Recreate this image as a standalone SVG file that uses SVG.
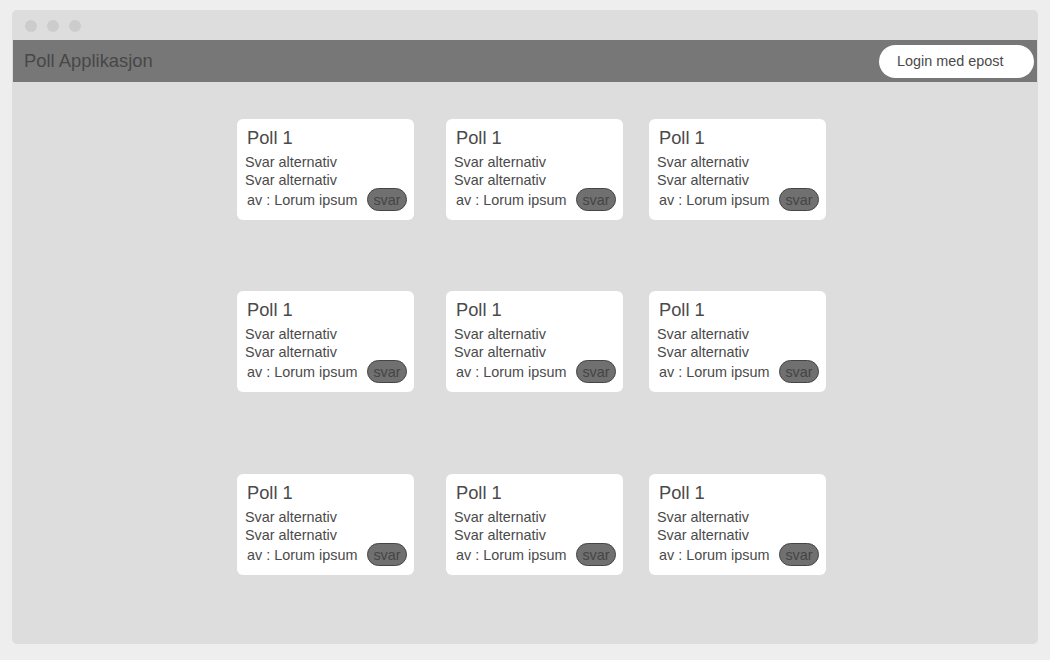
<svg xmlns="http://www.w3.org/2000/svg" width="1050" height="660" viewBox="0 0 1050 660">
<style>
text{font-family:"Liberation Sans",Arial,sans-serif;fill:#4a4a4a}
.card{fill:#ffffff}
.t{font-size:18.3px}
.s{font-size:14.4px}
.btn{fill:#707070;stroke:#454545;stroke-width:1}
.bt{font-size:14.4px;text-anchor:middle;fill:#454545}
.dot{fill:#cccccc}
</style>
<defs>
<g id="poll">
<rect class="card" x="0" y="0" width="177" height="101" rx="6"/>
<text class="t" x="10" y="25">Poll 1</text>
<text class="s" x="8" y="48">Svar alternativ</text>
<text class="s" x="8" y="66">Svar alternativ</text>
<text class="s" x="10" y="86">av : Lorum ipsum</text>
<rect class="btn" x="130.5" y="69.5" width="39" height="22" rx="11"/>
<text class="bt" x="150" y="86">svar</text>
</g>
</defs>
<rect x="0" y="0" width="1050" height="660" fill="#eeeeee"/>
<g id="window">
<rect x="12" y="10" width="1026" height="634" rx="5" fill="#dddddd"/>
<circle class="dot" cx="31" cy="26" r="6"/>
<circle class="dot" cx="53" cy="26" r="6"/>
<circle class="dot" cx="75" cy="26" r="6"/>
</g>
<g id="header">
<rect x="13" y="40" width="1024" height="42" fill="#777777"/>
<text x="24" y="67" style="font-size:18.4px;fill:#474747">Poll Applikasjon</text>
</g>
<g id="login">
<rect x="879" y="45" width="155" height="33" rx="16.5" fill="#ffffff"/>
<text x="897" y="66" style="font-size:14.4px">Login med epost</text>
</g>
<g id="poll-r1c1"><use href="#poll" x="237" y="119"/></g>
<g id="poll-r1c2"><use href="#poll" x="446" y="119"/></g>
<g id="poll-r1c3"><use href="#poll" x="649" y="119"/></g>
<g id="poll-r2c1"><use href="#poll" x="237" y="291"/></g>
<g id="poll-r2c2"><use href="#poll" x="446" y="291"/></g>
<g id="poll-r2c3"><use href="#poll" x="649" y="291"/></g>
<g id="poll-r3c1"><use href="#poll" x="237" y="474"/></g>
<g id="poll-r3c2"><use href="#poll" x="446" y="474"/></g>
<g id="poll-r3c3"><use href="#poll" x="649" y="474"/></g>
<g id="connectors"/>
</svg>
